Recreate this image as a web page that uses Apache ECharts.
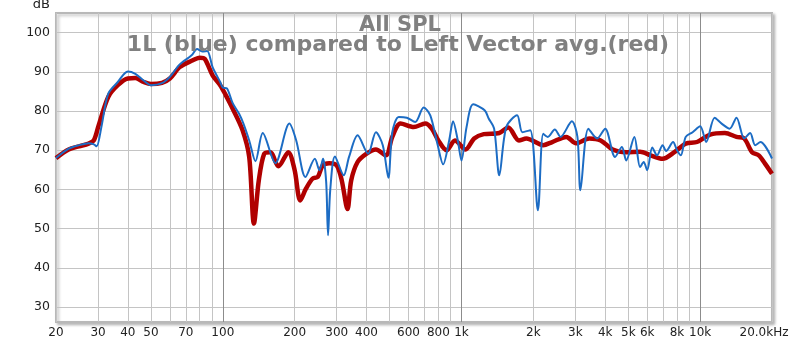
<!DOCTYPE html>
<html><head><meta charset="utf-8">
<script src="https://cdn.jsdelivr.net/npm/echarts@6/dist/echarts.min.js"></script>
<style>html,body{margin:0;padding:0;background:#fff}#c{width:800px;height:342px}</style>
</head><body><div id="c"></div>
<script>
const titleLine1 = 'All SPL';
const titleLine2 = '1L (blue) compared to Left Vector avg.(red)';
const xLabelValues = [20,30,40,50,70,100,200,300,400,600,800,1000,2000,3000,4000,5000,6000,8000,10000,20000];
const xLabelTexts = ['20','30','40','50','70','100','200','300','400','600','800','1k','2k','3k','4k','5k','6k','8k','10k','20.0kHz'];
const xGridValues = [20,30,40,50,60,70,80,90,100,200,300,400,500,600,700,800,900,1000,2000,3000,4000,5000,6000,7000,8000,9000,10000,20000];
const yTickValues = [30,40,50,60,70,80,90,100];

const redFreq = [20,22.6,25,27.4,28.8,30.2,33.1,36.3,40,43,46.6,50,55.6,60,66,74,80,84,90.6,97.5,103,110,121,129,135,141.5,149,158,171,188,200,211,223,238,250,262,279,300,315,333,345,367,399,438,482,513,555,631,705,751,800,866,939,1040,1130,1240,1440,1570,1740,1870,2200,2400,2750,3020,3430,3830,4300,4900,5600,6200,6960,7800,8700,9700,11000,12700,14200,15300,16500,17600,18700,20000];
const redDb = [68.0,70.2,71.0,71.7,72.5,76.4,83.6,86.6,88.3,88.4,87.4,86.9,87.2,88.3,91.2,92.8,93.6,93.3,89.1,86.6,84.0,80.6,75.1,68.3,51.3,62.3,69.1,69.5,65.9,69.5,64.9,57.2,60.2,62.8,63.2,66.1,66.7,66.1,62.3,55.0,62.3,67.0,69.1,70.2,68.7,73.4,76.8,75.9,76.8,75.5,72.5,70.0,72.5,70.2,73.0,74.1,74.4,75.8,72.5,73.0,71.3,72.1,73.4,71.8,73.0,72.5,70.2,69.5,69.6,68.7,67.8,69.5,71.7,72.1,74.0,74.4,73.4,73.0,69.5,68.7,66.6,64.0];

const blueFreq = [20,22.6,25,27.4,28.8,29.6,31,33.1,36.3,40,43,46.6,50,55.6,60,66,74,78,82,86,90.6,97.5,100,104,110,117,122,129,137,147,166,190,203,222,243,254,263,271,276,282,295,321,338,367,406,438,468,494,513,546,590,640,694,740,792,838,888,922,965,1000,1050,1120,1250,1300,1370,1440,1540,1710,1800,1940,2090,2200,2300,2460,2600,2900,3060,3150,3400,3700,4000,4400,4700,4900,5300,5600,5800,6000,6300,6600,6960,7200,7700,8000,8300,8700,9300,10000,10600,11500,12300,13300,14200,15300,16200,17000,17900,20000];
const blueDb = [68.0,70.4,71.3,71.8,71.5,71.0,76.0,84.4,87.4,90.1,89.5,87.8,86.6,87.1,88.7,91.9,94.2,95.8,95.2,95.3,91.2,87.4,86.0,85.8,82.0,79.3,76.8,72.5,67.2,74.4,66.7,76.8,72.5,63.2,67.8,64.9,67.8,62.0,48.3,60.0,68.4,63.6,68.3,73.8,69.1,74.6,71.3,63.0,74.6,78.5,78.3,77.2,80.9,78.9,71.7,66.4,72.5,77.4,72.5,67.4,75.9,81.7,80.2,78.1,75.5,63.6,75.9,78.9,74.6,75.1,54.7,74.2,73.4,75.3,73.4,77.4,73.4,59.8,75.5,73.0,75.5,68.3,70.8,67.4,73.4,65.7,67.0,64.9,70.7,68.7,71.3,69.8,72.1,70.0,68.7,73.4,74.6,76.1,72.1,78.3,76.8,75.5,78.3,73.0,74.4,71.3,72.1,67.9];

function pairs(xs, ys){ return xs.map((x,i)=>[x, ys[i]]); }
const labelMap = {};
xLabelValues.forEach((v,i)=>{ labelMap[v] = xLabelTexts[i]; });

const chart = echarts.init(document.getElementById('c'), null, {renderer:'canvas'});
const font = 'DejaVu Sans';
chart.setOption({
  animation: false,
  backgroundColor: '#ffffff',
  title: [
    {text: titleLine1, left: 395, top: 10, textAlign: 'center',
     textStyle: {fontFamily: font, fontWeight: 'bold', fontSize: 21, color: '#808080'}},
    {text: titleLine2, left: 393, top: 29, textAlign: 'center',
     textStyle: {fontFamily: font, fontWeight: 'bold', fontSize: 22, color: '#808080'}}
  ],
  graphic: [{type:'text', right: 750, top: -2, style:{text:'dB', font: '13px "DejaVu Sans"', fill:'#222'}}],
  grid: {left: 56, right: 28, top: 13, bottom: 20, show: true, backgroundColor: '#fff',
         borderColor: '#b8b8b8', borderWidth: 2, shadowColor: 'rgba(0,0,0,0.25)', shadowBlur: 3, shadowOffsetX: 2, shadowOffsetY: 2},
  xAxis: {
    type: 'log', logBase: 10, min: 20, max: 20000,
    axisLine: {show: false}, axisTick: {show: false, customValues: xGridValues},
    axisLabel: {customValues: xLabelValues,
                formatter: v => v === 20000 ? '{last|' + labelMap[v] + '}' : (labelMap[v] !== undefined ? labelMap[v] : ''),
                rich: {last: {fontFamily: font, fontSize: 12, color: '#222', padding: [0, 16, 0, 0]}},
                fontFamily: font, fontSize: 12, color: '#222', margin: 5},
    splitLine: {show: true, lineStyle: {color: ['#c4c4c4','#c4c4c4','#c4c4c4','#c4c4c4','#c4c4c4','#c4c4c4','#c4c4c4','#c4c4c4','#8c8c8c'], width: 1}}
  },
  yAxis: {
    type: 'value', min: 26.2, max: 105,
    axisLine: {show: false}, axisTick: {show: false, customValues: yTickValues},
    axisLabel: {customValues: yTickValues, fontFamily: font, fontSize: 12.5, color: '#222', margin: 6},
    splitLine: {show: true, lineStyle: {color: '#c4c4c4', width: 1}}
  },
  series: [
    {type: 'line', name: 'red', data: pairs(redFreq, redDb), smooth: 0.3, showSymbol: false,
     lineStyle: {color: '#b00000', width: 4.5}, z: 2},
    {type: 'line', name: 'blue', data: pairs(blueFreq, blueDb), smooth: 0.3, showSymbol: false,
     lineStyle: {color: '#1c6cc4', width: 2}, z: 3}
  ]
});
</script></body></html>
